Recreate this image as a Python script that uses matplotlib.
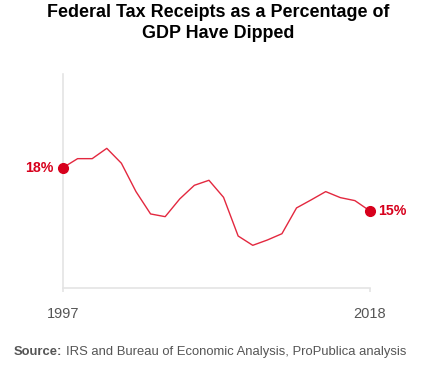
import matplotlib
matplotlib.use("Agg")
import matplotlib.pyplot as plt

years = list(range(1997, 2019))
receipts_pct = [18.0, 18.63, 18.63, 19.35, 18.31, 16.33, 14.77, 14.58, 15.82, 16.77, 17.12,
                15.93, 13.23, 12.58, 12.95, 13.39, 15.19, 15.75, 16.33, 15.91, 15.70, 15.0]
end_labels = ["18%", "15%"]

red = "#d7001c"
line_red = "#e3283f"
axis_gray = "#e4e4e4"
text_gray = "#555555"

plt.rcParams['font.family'] = ['Liberation Sans', 'DejaVu Sans']

fig = plt.figure(figsize=(4.36, 3.81), dpi=100)
ax = fig.add_axes([63 / 436, 93 / 381, 306.5 / 436, 214 / 381])

ax.plot(years, receipts_pct, color=line_red, linewidth=1.0)
ax.plot([years[0], years[-1]], [receipts_pct[0], receipts_pct[-1]], 'o',
        color=red, markersize=7, clip_on=False, zorder=5)

ax.annotate(end_labels[0], (years[0], receipts_pct[0]), xytext=(-7, 0),
            textcoords='offset points', ha='right', va='center',
            color=red, fontsize=10.2, fontweight='bold')
ax.annotate(end_labels[1], (years[-1], receipts_pct[-1]), xytext=(6.5, 0),
            textcoords='offset points', ha='left', va='center',
            color=red, fontsize=10.2, fontweight='bold')

ax.set_xlim(1997, 2018)
ax.set_ylim(9.6, 24.54)

for s in ['top', 'right']:
    ax.spines[s].set_visible(False)
for s in ['left', 'bottom']:
    ax.spines[s].set_color(axis_gray)
    ax.spines[s].set_linewidth(1.2)

ax.set_xticks([1997, 2018])
ax.set_xticklabels(['1997', '2018'])
ax.set_yticks([])
ax.tick_params(axis='x', length=3, width=1.2, color=axis_gray, pad=11,
               labelsize=10.5, labelcolor=text_gray)

fig.text(0.5, 1 - 23 / 381, "Federal Tax Receipts as a Percentage of\nGDP Have Dipped",
         ha='center', va='center', fontsize=12.9, fontweight='bold', color='black',
         linespacing=1.25)

src = fig.text(14 / 436, 1 - 352 / 381, "Source:", ha='left', va='center',
               fontsize=9.4, fontweight='bold', color=text_gray)
fig.canvas.draw()
bb = src.get_window_extent()
fig.text(bb.x1 / fig.bbox.width + 0.008, 1 - 352 / 381,
         "IRS and Bureau of Economic Analysis, ProPublica analysis",
         ha='left', va='center', fontsize=9.4, color=text_gray)

fig.savefig("out.png", dpi=100)
